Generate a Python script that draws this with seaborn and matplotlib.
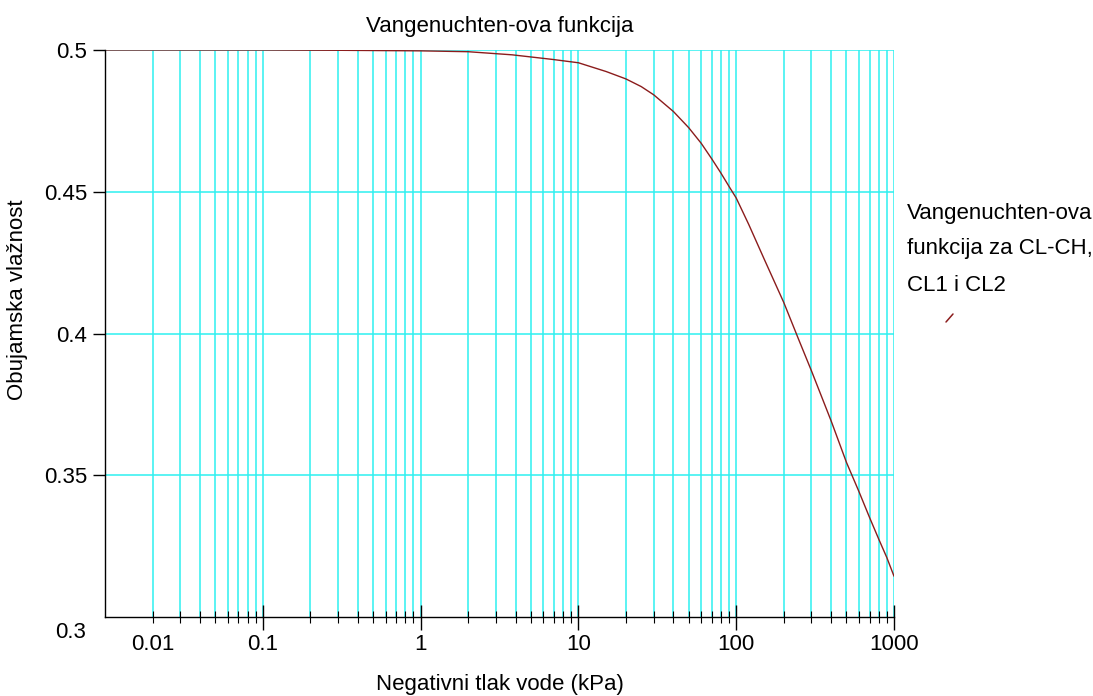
import matplotlib
matplotlib.use("Agg")
import matplotlib.pyplot as plt
from matplotlib.lines import Line2D
import seaborn as sns
import pandas as pd

# ---- data ----
pressure_kpa = [0.01, 0.1, 0.3, 1, 2, 3.8, 6.8, 10, 15, 20, 25, 30, 40, 50, 60, 70, 80,
                90, 100, 120, 150, 200, 250, 300, 400, 500, 600, 700, 800, 900, 1000]
moisture = [0.5, 0.5, 0.4999, 0.4997, 0.4994, 0.4983, 0.4967, 0.4955, 0.4924, 0.4898,
            0.4871, 0.4842, 0.4783, 0.4726, 0.4671, 0.4616, 0.4566, 0.4519, 0.4478,
            0.4385, 0.4264, 0.4110, 0.3976, 0.3868, 0.3691, 0.3545, 0.3442, 0.3351,
            0.3275, 0.3210, 0.3144]

major_x = [0.1, 1, 10, 100, 1000]
major_x_labels = ["0.1", "1", "10", "100", "1000"]
minor_x = [m * d for d in [0.01, 0.1, 1, 10, 100] for m in range(2, 10)]
y_ticks = [0.35, 0.4, 0.45, 0.5]
y_tick_labels = ["0.35", "0.4", "0.45", "0.5"]

title = "Vangenuchten-ova funkcija"
xlabel = "Negativni tlak vode (kPa)"
ylabel = "Obujamska vlažnost"
legend_lines = ["Vangenuchten-ova", "funkcija za CL-CH,", "CL1 i CL2"]

sns.set_style("white")
plt.rcParams["font.family"] = ["Liberation Sans", "DejaVu Sans"]

FS = 16
df = pd.DataFrame({"h": pressure_kpa, "theta": moisture})

fig = plt.figure(figsize=(10.93, 6.96), dpi=100)
ax = fig.add_axes([105 / 1093, 1 - 617 / 696, (894 - 105) / 1093, (617 - 50) / 696])
ax.set_axisbelow(False)

grid_c = "#2ef0f0"
ax.set_xscale("log")
ax.set_xlim(0.01, 1000)
ax.set_ylim(0.3, 0.5)

# grid
for x in major_x + minor_x:
    ax.axvline(x, color=grid_c, lw=1.1, zorder=1)
for y in y_ticks:
    ax.axhline(y, color=grid_c, lw=1.1, zorder=1)

sns.lineplot(data=df, x="h", y="theta", ax=ax, color="#8b1c1c", lw=1.0, zorder=3,
             legend=False)

# spines
for s in ["top", "right"]:
    ax.spines[s].set_visible(False)
for s in ["left", "bottom"]:
    ax.spines[s].set_color("black")
    ax.spines[s].set_linewidth(1.0)
    ax.spines[s].set_zorder(4)

# x ticks
ax.set_xticks(major_x, labels=major_x_labels)
minor_labels = ["0.01" if abs(v - 0.02) < 1e-9 else "" for v in minor_x]
ax.set_xticks(minor_x, labels=minor_labels, minor=True)
ax.tick_params(axis="x", which="major", bottom=True, direction="inout", length=18,
               width=1, labelsize=FS, pad=3, color="black", labelcolor="black")
ax.tick_params(axis="x", which="minor", bottom=True, direction="inout", length=9,
               width=0.8, labelsize=FS, pad=7.5, color="black", labelcolor="black")

# y ticks
ax.set_yticks(y_ticks, labels=y_tick_labels)
ax.tick_params(axis="y", which="major", left=True, direction="out", length=9, width=1,
               labelsize=FS, pad=4, color="black", labelcolor="black")
ax.tick_params(axis="y", which="minor", left=False)
ax.annotate("0.3", xy=(0, 0.3), xycoords=("axes fraction", "data"),
            xytext=(-14, -11), textcoords="offset points",
            ha="right", va="center", fontsize=FS, color="black")

ax.set_xlabel(xlabel, fontsize=FS, labelpad=14, color="black")
ax.set_ylabel(ylabel, fontsize=FS, color="black")
ax.yaxis.set_label_coords(-0.097, 0.56)
ax.set_title(title, fontsize=FS, pad=13, color="black")

# legend-like annotation on the right
for txt, yb in zip(legend_lines, [0.6849, 0.6351, 0.5823]):
    fig.text(907 / 1093, yb, txt, fontsize=FS, ha="left", va="baseline", color="black")
fig.add_artist(Line2D([946 / 1093, 953 / 1093], [1 - 322 / 696, 1 - 314 / 696],
                      transform=fig.transFigure, color="#8b1c1c", lw=1.1))

fig.savefig("out.png", dpi=100, facecolor="white")
